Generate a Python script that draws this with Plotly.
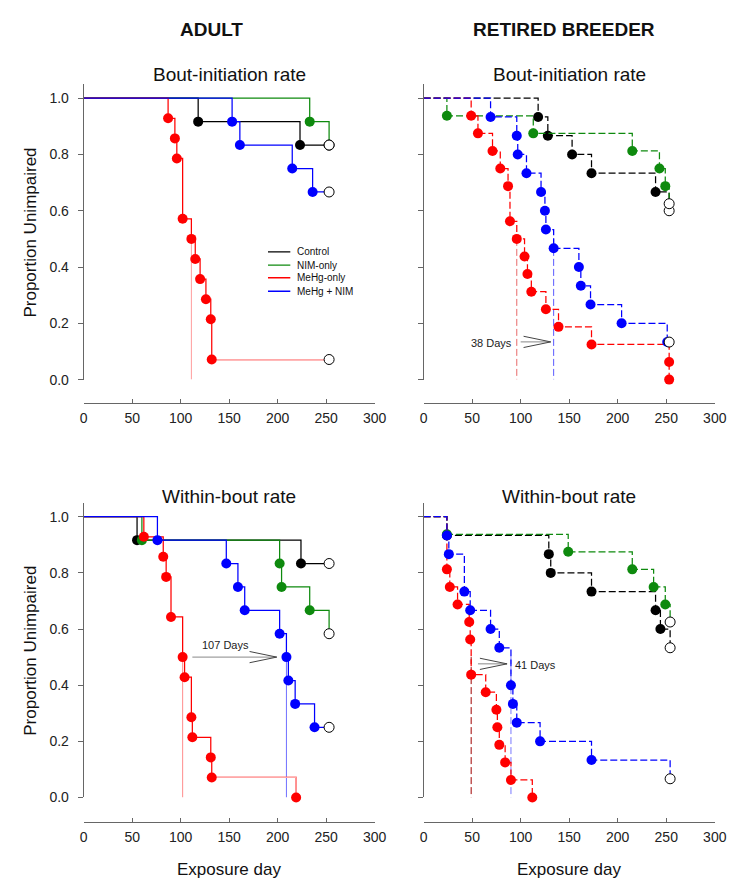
import plotly.graph_objects as go

FONT = "Liberation Sans, Arial, Helvetica, sans-serif"

# ---------------- data ----------------
TICK_DAYS = [0, 50, 100, 150, 200, 250, 300]
TICK_P = [0.0, 0.2, 0.4, 0.6, 0.8, 1.0]
TICK_P_TEXT = ["0.0", "0.2", "0.4", "0.6", "0.8", "1.0"]
GROUPS = ["Control", "NIM-only", "MeHg-only", "MeHg + NIM"]
COLORS = ["#000000", "#0e8a0e", "#ff0000", "#0000ff"]

# Adult - Bout-initiation rate (event day, proportion unimpaired after event, last censored obs)
ab_ctrl_day = [118, 223]
ab_ctrl_p = [11/12, 10/12]
ab_ctrl_cens = [253, 10/12]
ab_nim_day = [233]
ab_nim_p = [11/12]
ab_nim_cens = [253, 10/12]
ab_mehg_day = [87, 94, 96, 102, 111, 115, 120, 126, 131, 132]
ab_mehg_p = [13/14, 12/14, 11/14, 8/14, 7/14, 6/14, 5/14, 4/14, 3/14, 1/14]
ab_mehg_cens = [253, 1/14]
ab_comb_day = [153, 161, 215, 236]
ab_comb_p = [11/12, 10/12, 9/12, 8/12]
ab_comb_cens = [253, 8/12]
ab_median = [111]

# Retired breeder - Bout-initiation rate
rb_ctrl_day = [118, 128, 153, 173, 239]
rb_ctrl_p = [14/15, 13/15, 12/15, 11/15, 10/15]
rb_ctrl_cens = [253, 9/15]
rb_nim_day = [24, 113, 215, 243, 249]
rb_nim_p = [15/16, 14/16, 13/16, 12/16, 11/16]
rb_nim_cens = [253, 10/16]
rb_mehg_day = [49, 56, 71, 79, 87, 89, 96, 104, 107, 111, 126, 139, 173, 253, 253]
rb_mehg_p = [15/16, 14/16, 13/16, 12/16, 11/16, 9/16, 8/16, 7/16, 6/16, 5/16, 4/16, 3/16, 2/16, 1/16, 0]
rb_mehg_cens = None
rb_comb_day = [69, 96, 97, 106, 121, 125, 126, 134, 160, 162, 172, 204, 251]
rb_comb_p = [14/15, 13/15, 12/15, 11/15, 10/15, 9/15, 8/15, 7/15, 6/15, 5/15, 4/15, 3/15, 2/15]
rb_comb_cens = [253, 2/15]
rb_median = [96, 134]

# Adult - Within-bout rate
aw_ctrl_day = [55, 224]
aw_ctrl_p = [11/12, 10/12]
aw_ctrl_cens = [253, 10/12]
aw_nim_day = [60, 202, 204, 233]
aw_nim_p = [11/12, 10/12, 9/12, 8/12]
aw_nim_cens = [253, 7/12]
aw_mehg_day = [62, 82, 85, 90, 102, 104, 111, 112, 131, 132, 219]
aw_mehg_p = [13/14, 12/14, 11/14, 9/14, 7/14, 6/14, 4/14, 3/14, 2/14, 1/14, 0]
aw_mehg_cens = None
aw_comb_day = [76, 147, 159, 166, 202, 209, 211, 218, 238]
aw_comb_p = [11/12, 10/12, 9/12, 8/12, 7/12, 6/12, 5/12, 4/12, 3/12]
aw_comb_cens = [253, 3/12]
aw_median = [102, 209]

# Retired breeder - Within-bout rate
rw_ctrl_day = [24, 129, 131, 173, 239, 244]
rw_ctrl_p = [14/15, 13/15, 12/15, 11/15, 10/15, 9/15]
rw_ctrl_cens = [254, 8/15]
rw_nim_day = [24, 149, 215, 237, 249]
rw_nim_p = [15/16, 14/16, 13/16, 12/16, 11/16]
rw_nim_cens = [254, 10/16]
rw_mehg_day = [24, 27, 35, 47, 48, 49, 64, 75, 76, 78, 84, 90, 112]
rw_mehg_p = [13/16, 12/16, 11/16, 10/16, 9/16, 7/16, 6/16, 5/16, 4/16, 3/16, 2/16, 1/16, 0]
rw_mehg_cens = None
rw_comb_day = [24, 26, 42, 48, 69, 78, 90, 92, 96, 120, 173]
rw_comb_p = [14/15, 13/15, 11/15, 10/15, 9/15, 8/15, 6/15, 5/15, 4/15, 3/15, 2/15]
rw_comb_cens = [254, 1/15]
rw_median = [49, 90]

# Difference annotations: text, text position, arrow start/end day, arrow level
diff_text = ["38 Days", "107 Days", "41 Days"]
diff_text_xy = [(70, 0.131), (146, 0.544), (115, 0.471)]
diff_arrow = [(100, 131, 0.134), (112, 199, 0.5), (56, 86, 0.476)]

# ---------------- layout geometry ----------------
XDOM_L = [73.3 / 740, 370.7 / 740]
XDOM_R = [420.7 / 740, 718.3 / 740]
YDOM_T = [1 - 375 / 885, 1 - 76.8 / 885]
YDOM_B = [1 - 796.7 / 885, 1 - 499.2 / 885]
XPOS_T = 1 - 399 / 885
XPOS_B = 1 - 821.5 / 885

panels = [
    dict(ax="", xdom=XDOM_L, ydom=YDOM_T, xpos=XPOS_T, dash="solid", ylab=True,
         series=[(ab_ctrl_day, ab_ctrl_p, ab_ctrl_cens), (ab_nim_day, ab_nim_p, ab_nim_cens),
                 (ab_mehg_day, ab_mehg_p, ab_mehg_cens), (ab_comb_day, ab_comb_p, ab_comb_cens)],
         medians=ab_median, med_colors=["#ff9c9c"], med_dash="solid", light_tail=True,
         title="Bout-initiation rate", title_y=67, xtitle=False, lab_y=-0.046, ytitle_y=227),
    dict(ax="2", xdom=XDOM_R, ydom=YDOM_T, xpos=XPOS_T, dash="7px,3px", ylab=False,
         series=[(rb_ctrl_day, rb_ctrl_p, rb_ctrl_cens), (rb_nim_day, rb_nim_p, rb_nim_cens),
                 (rb_mehg_day, rb_mehg_p, rb_mehg_cens), (rb_comb_day, rb_comb_p, rb_comb_cens)],
         medians=rb_median, med_colors=["#e86a6a", "#5a5aff"], med_dash="7px,3px", light_tail=False,
         title="Bout-initiation rate", title_y=67, xtitle=False, lab_y=-0.046, ytitle_y=None),
    dict(ax="3", xdom=XDOM_L, ydom=YDOM_B, xpos=XPOS_B, dash="solid", ylab=True,
         series=[(aw_ctrl_day, aw_ctrl_p, aw_ctrl_cens), (aw_nim_day, aw_nim_p, aw_nim_cens),
                 (aw_mehg_day, aw_mehg_p, aw_mehg_cens), (aw_comb_day, aw_comb_p, aw_comb_cens)],
         medians=aw_median, med_colors=["#ff8c8c", "#7070ff"], med_dash="solid", light_tail=True,
         title="Within-bout rate", title_y=493, xtitle=True, lab_y=-0.047, ytitle_y=649),
    dict(ax="4", xdom=XDOM_R, ydom=YDOM_B, xpos=XPOS_B, dash="7px,3px", ylab=False,
         series=[(rw_ctrl_day, rw_ctrl_p, rw_ctrl_cens), (rw_nim_day, rw_nim_p, rw_nim_cens),
                 (rw_mehg_day, rw_mehg_p, rw_mehg_cens), (rw_comb_day, rw_comb_p, rw_comb_cens)],
         medians=rw_median, med_colors=["#a00000", "#7878ff"], med_dash="7px,3px", light_tail=False,
         title="Within-bout rate", title_y=493, xtitle=True, lab_y=-0.047, ytitle_y=None),
]
arrow_panel = ["2", "3", "4"]

fig = go.Figure()
annotations = []
shapes = []
layout = dict(width=740, height=885, margin=dict(l=0, r=0, t=0, b=0, pad=0),
              paper_bgcolor="white", plot_bgcolor="white", showlegend=False,
              font=dict(family=FONT, color="#111"))


def paper_text(x_px, y_px, text, size, angle=0):
    return dict(x=x_px / 740, y=1 - y_px / 885, xref="paper", yref="paper", text=text,
                showarrow=False, xanchor="center", yanchor="middle", textangle=angle,
                font=dict(size=size, family=FONT, color="#111"))


for p in panels:
    xa, ya = "x" + p["ax"], "y" + p["ax"]
    # median reference lines
    for m, c in zip(p["medians"], p["med_colors"]):
        fig.add_trace(go.Scatter(x=[m, m], y=[0.5, 0], xaxis=xa, yaxis=ya, mode="lines",
                                 line=dict(color=c, width=1, dash=p["med_dash"]),
                                 hoverinfo="skip", cliponaxis=False))
        annotations.append(dict(x=m, y=p["lab_y"], xref=xa, yref=ya, text=str(m), showarrow=False,
                                xanchor="center", yanchor="middle",
                                font=dict(size=14, family=FONT, color="#222")))
    cens_x, cens_y = [], []
    for gi, (days, props, cens) in enumerate(p["series"]):
        col = COLORS[gi]
        xs = [0] + list(days)
        ys = [1.0] + list(props)
        if cens is not None:
            xs.append(cens[0]); ys.append(cens[1])
            cens_x.append(cens[0]); cens_y.append(cens[1])
        fig.add_trace(go.Scatter(x=xs, y=ys, xaxis=xa, yaxis=ya, mode="lines", line_shape="hv",
                                 line=dict(color=col, width=1.25, dash=p["dash"]),
                                 hoverinfo="skip", cliponaxis=False))
        if p["light_tail"] and gi == 2:
            fig.add_trace(go.Scatter(x=xs[-2:], y=ys[-2:], xaxis=xa, yaxis=ya, mode="lines",
                                     line_shape="hv", line=dict(color="#ffa8a8", width=1.25),
                                     hoverinfo="skip", cliponaxis=False))
        fig.add_trace(go.Scatter(x=days, y=props, xaxis=xa, yaxis=ya, mode="markers",
                                 marker=dict(size=10, color=col, line=dict(width=0)),
                                 hoverinfo="skip", cliponaxis=False))
    fig.add_trace(go.Scatter(x=cens_x, y=cens_y, xaxis=xa, yaxis=ya, mode="markers",
                             marker=dict(size=10, color="white", line=dict(width=1, color="#000")),
                             hoverinfo="skip", cliponaxis=False))

    layout["xaxis" + p["ax"]] = dict(
        domain=p["xdom"], range=[0, 300], anchor="free", position=p["xpos"],
        showline=True, linecolor="#666", linewidth=1, ticks="inside", ticklen=4, tickcolor="#666",
        tickvals=TICK_DAYS, showgrid=False, zeroline=False, ticklabelstandoff=2,
        tickfont=dict(size=14, family=FONT, color="#222"))
    layout["yaxis" + p["ax"]] = dict(
        domain=p["ydom"], range=[0, 1.05], anchor=xa, showline=True, linecolor="#666", linewidth=1,
        ticks="outside", ticklen=5, tickcolor="#666", tickvals=TICK_P, ticktext=TICK_P_TEXT,
        showticklabels=p["ylab"], showgrid=False, zeroline=False, ticklabelstandoff=6,
        tickfont=dict(size=14, family=FONT, color="#222"))

    cx = (p["xdom"][0] + p["xdom"][1]) / 2 * 740
    annotations.append(paper_text(cx, p["title_y"], p["title"], 19))
    if p["xtitle"]:
        annotations.append(paper_text(cx, 869, "Exposure day", 17))
    if p["ytitle_y"] is not None:
        annotations.append(paper_text(19, p["ytitle_y"], "Proportion Unimpaired", 17, angle=-90))

# difference arrows
for ax, txt, (tx, ty), (x0, x1, yv) in zip(arrow_panel, diff_text, diff_text_xy, diff_arrow):
    xa, ya = "x" + ax, "y" + ax
    annotations.append(dict(x=tx, y=ty, xref=xa, yref=ya, text=txt, showarrow=False,
                            xanchor="center", yanchor="middle",
                            font=dict(size=11, family=FONT, color="#222")))
    shapes.append(dict(type="line", xref=xa, yref=ya, x0=x0, x1=x1, y0=yv, y1=yv,
                       line=dict(color="#888", width=1)))
    head = min(28, x1 - x0)
    for sgn in (1, -1):
        shapes.append(dict(type="line", xref=xa, yref=ya, x0=x1 - head, x1=x1, y0=yv + sgn * 0.02, y1=yv,
                           line=dict(color="#444", width=1)))

# legend (top-left panel)
leg_y = [0.454, 0.407, 0.362, 0.314]
for g, c, yv in zip(GROUPS, COLORS, leg_y):
    shapes.append(dict(type="line", xref="x", yref="y", x0=190, x1=213, y0=yv, y1=yv,
                       line=dict(color=c, width=1.3)))
    annotations.append(dict(x=218, y=yv, xref="x", yref="y", text=g, showarrow=False,
                            xanchor="left", yanchor="middle",
                            font=dict(size=10, family=FONT, color="#111")))

# column headings
annotations.append(paper_text(204, 22, "<b>ADULT</b>", 19))
annotations.append(paper_text(564, 22, "<b>RETIRED BREEDER</b>", 19))

layout["annotations"] = annotations
layout["shapes"] = shapes
fig.update_layout(**layout)
fig.write_html("out.html")
